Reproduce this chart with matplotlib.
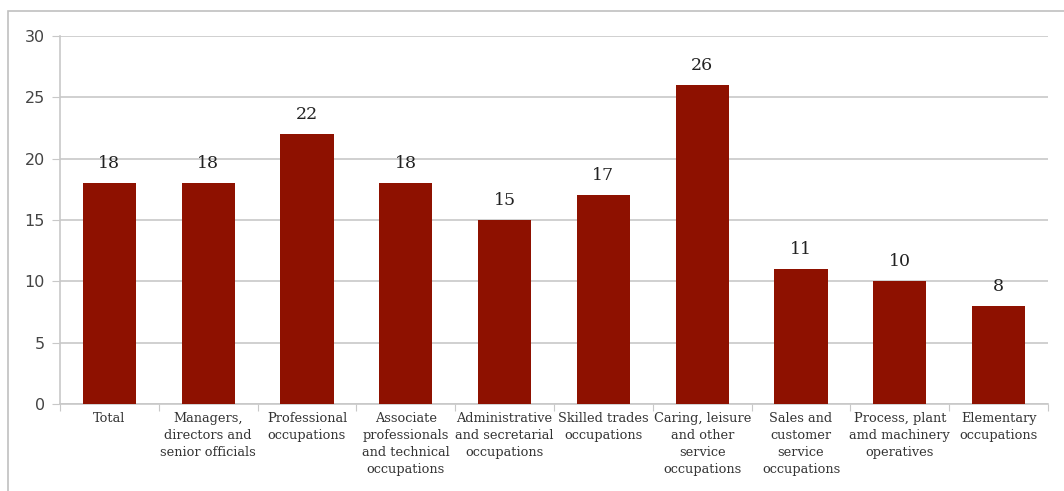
import matplotlib.pyplot as plt
import numpy as np
from matplotlib.patches import Rectangle

categories = ["Total", "Managers,\ndirectors and\nsenior officials", "Professional\noccupations",
              "Associate\nprofessionals\nand technical\noccupations", "Administrative\nand secretarial\noccupations",
              "Skilled trades\noccupations", "Caring, leisure\nand other\nservice\noccupations",
              "Sales and\ncustomer\nservice\noccupations", "Process, plant\namd machinery\noperatives",
              "Elementary\noccupations"]
values = [18, 18, 22, 18, 15, 17, 26, 11, 10, 8]
yticks = [0, 5, 10, 15, 20, 25, 30]

bar_color = '#8e1100'
grid_color = '#c8c8c8'

fig = plt.figure(figsize=(10.64, 4.91), dpi=100)
ax = fig.add_axes([60/1064, 1-404/491, 988/1064, 368/491])

# outer frame
fig.patches.append(Rectangle((8/1064, -0.1), 1.2, 1-11/491+0.1, transform=fig.transFigure,
                             fill=False, edgecolor='#c0c0c0', linewidth=1.2))

x = np.arange(len(categories))
ax.bar(x, values, width=0.54, color=bar_color, zorder=3)
for xi, v in zip(x, values):
    ax.text(xi, v + 0.9, str(v), ha='center', va='bottom', fontsize=12.5,
            family='DejaVu Serif', color='#222222')

ax.set_xlim(-0.5, len(categories) - 0.5)
ax.set_ylim(0, 30)
ax.set_yticks(yticks)
ax.set_yticklabels([str(t) for t in yticks], fontsize=11.5, color='#444444')
ax.yaxis.grid(True, color=grid_color, linewidth=1.2, zorder=0)
ax.tick_params(axis='y', length=6, color=grid_color, pad=5)

ax.set_xticks(np.arange(-0.5, len(categories), 1), minor=False)
ax.set_xticklabels([])
ax.set_xticks(x, minor=True)
ax.set_xticklabels(categories, minor=True, fontsize=9.3, family='DejaVu Serif',
                   color='#333333', linespacing=1.4)
ax.tick_params(axis='x', which='major', length=5, color=grid_color)
ax.tick_params(axis='x', which='minor', length=0, pad=6)

for s in ['top', 'right']:
    ax.spines[s].set_visible(False)
ax.spines['left'].set_color(grid_color)
ax.spines['bottom'].set_color(grid_color)
ax.spines['left'].set_linewidth(1.2)
ax.spines['bottom'].set_linewidth(1.2)

fig.savefig('out.png', dpi=100)
